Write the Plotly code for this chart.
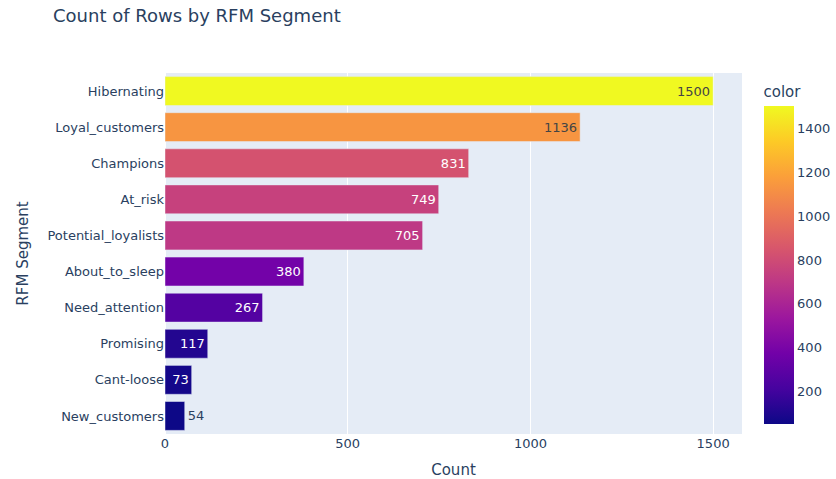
import plotly.graph_objects as go

segments = ["Hibernating", "Loyal_customers", "Champions", "At_risk", "Potential_loyalists",
            "About_to_sleep", "Need_attention", "Promising", "Cant-loose", "New_customers"]
counts = [1500, 1136, 831, 749, 705, 380, 267, 117, 73, 54]
x_ticks = [0, 500, 1000, 1500]
colorbar_ticks = [200, 400, 600, 800, 1000, 1200, 1400]

font_family = "DejaVu Sans, Verdana, sans-serif"

fig = go.Figure(
    go.Bar(
        x=counts,
        y=segments,
        orientation="h",
        text=counts,
        textposition="auto",
        textfont=dict(size=13),
        marker=dict(color=counts, coloraxis="coloraxis"),
        hovertemplate="Count=%{x}<br>RFM Segment=%{y}<extra></extra>",
    )
)

fig.update_layout(
    width=836,
    height=479,
    template="plotly",
    font=dict(family=font_family, size=13, color="#2a3f5f"),
    title=dict(text="Count of Rows by RFM Segment", x=53 / 836, xanchor="left",
               y=1 - 16 / 479, yanchor="middle", font=dict(size=18)),
    margin=dict(l=165, r=94, t=73, b=45, autoexpand=False),
    coloraxis=dict(
        colorscale="Plasma",
        colorbar=dict(title=dict(text="color", font=dict(size=15)), thickness=30,
                      tickvals=colorbar_ticks, tickfont=dict(size=13)),
    ),
    xaxis=dict(title=dict(text="Count", font=dict(size=15)), tickvals=x_ticks,
               automargin=False),
    yaxis=dict(title=dict(text="RFM Segment", font=dict(size=15)), autorange="reversed",
               automargin=False),
)

fig.write_html("out.html")
